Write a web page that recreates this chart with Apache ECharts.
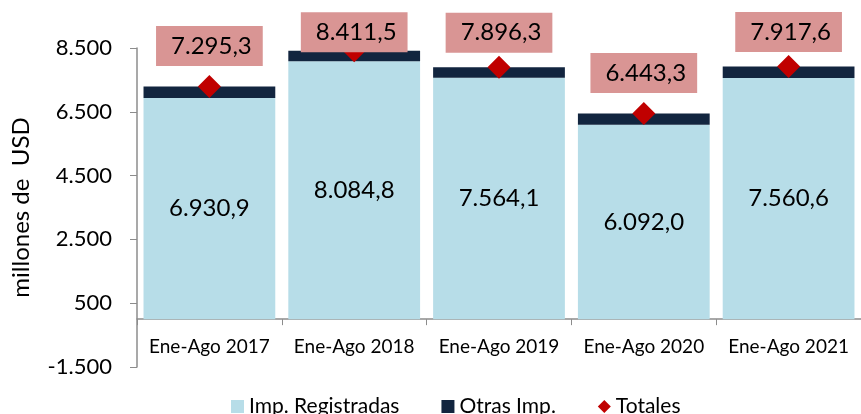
<!DOCTYPE html>
<html>
<head>
<meta charset="utf-8">
<script src="https://cdn.jsdelivr.net/npm/echarts@6/dist/echarts.min.js"></script>
<style>
  html, body { margin: 0; padding: 0; background: #fff; }
  #main { width: 861px; height: 414px; }
</style>
</head>
<body>
<div id="main"></div>
<script>
// datos
var periodos = ['Ene-Ago 2017', 'Ene-Ago 2018', 'Ene-Ago 2019', 'Ene-Ago 2020', 'Ene-Ago 2021']
var registradas = [6930.9, 8084.8, 7564.1, 6092.0, 7560.6]
var otras = [364.4, 326.7, 332.2, 351.3, 357.0]
var totales = [7295.3, 8411.5, 7896.3, 6443.3, 7917.6]

// distancia de la etiqueta de totales sobre el rombo
var distTotales = [9, -13, 3, 9, 3]

var fuente = 'Lato'

// 1234.5 -> "1.234,5"
var fmt = function(v, dec) {
    var s = Math.abs(v).toFixed(dec)
    var partes = s.split('.')
    var ent = partes[0].replace(/\B(?=(\d{3})+(?!\d))/g, '.')
    var res = dec > 0 ? ent + ',' + partes[1] : ent
    return (v < 0 ? '-' : '') + res
}

var datosTotales = []
for (var i = 0; i < totales.length; i++) {
    datosTotales.push({
        value: totales[i],
        label: { distance: distTotales[i] }
    })
}

var mychart = echarts.init(document.getElementById('main'))
mychart.setOption({
    animation: false,
    textStyle: { fontFamily: fuente },
    grid: {
        left: 137,
        right: -10,
        top: 48,
        bottom: 47
    },
    legend: {
        left: 226,
        top: 391,
        itemGap: 42,
        itemWidth: 13,
        itemHeight: 13,
        textStyle: { fontSize: 21, color: '#000', fontFamily: fuente },
        data: [
            { name: 'Imp. Registradas', icon: 'rect' },
            { name: 'Otras Imp.', icon: 'rect' },
            { name: 'Totales', icon: 'diamond' }
        ]
    },
    xAxis: {
        type: 'category',
        data: periodos,
        boundaryGap: true,
        axisLine: { onZero: true, lineStyle: { color: '#8c8c8c', width: 1.5 } },
        axisTick: { show: true, alignWithLabel: false, length: 6, lineStyle: { color: '#8c8c8c' } },
        axisLabel: { color: '#000', fontSize: 19, margin: -30, fontFamily: fuente, interval: 0 }
    },
    yAxis: {
        type: 'value',
        min: -1500,
        max: 8500,
        interval: 2000,
        name: 'millones de  USD',
        nameLocation: 'middle',
        nameGap: 104,
        nameTextStyle: { fontSize: 24, color: '#000', fontFamily: fuente },
        splitLine: { show: false },
        axisLine: { show: true, lineStyle: { color: '#8c8c8c', width: 1.5 } },
        axisTick: { show: true, length: 7, lineStyle: { color: '#8c8c8c' } },
        axisLabel: {
            color: '#000',
            fontSize: 22,
            margin: 25,
            fontFamily: fuente,
            formatter: function(v) { return fmt(v, 0) }
        }
    },
    series: [
        {
            name: 'Imp. Registradas',
            type: 'bar',
            stack: 'imp',
            barCategoryGap: '9%',
            itemStyle: { color: '#b7dde8' },
            label: {
                show: true,
                position: 'inside',
                color: '#000',
                fontSize: 24,
                fontFamily: fuente,
                formatter: function(p) { return fmt(p.value, 1) }
            },
            data: registradas
        },
        {
            name: 'Otras Imp.',
            type: 'bar',
            stack: 'imp',
            itemStyle: { color: '#12253f' },
            data: otras
        },
        {
            name: 'Totales',
            type: 'scatter',
            symbol: 'diamond',
            symbolSize: 23,
            itemStyle: { color: '#c00000', opacity: 1 },
            z: 5,
            label: {
                show: true,
                position: 'top',
                color: '#000',
                fontSize: 24,
                fontFamily: fuente,
                backgroundColor: '#d99594',
                padding: [8, 11, 8, 15],
                formatter: function(p) { return fmt(p.value, 1) }
            },
            data: datosTotales
        }
    ]
})
</script>
</body>
</html>
